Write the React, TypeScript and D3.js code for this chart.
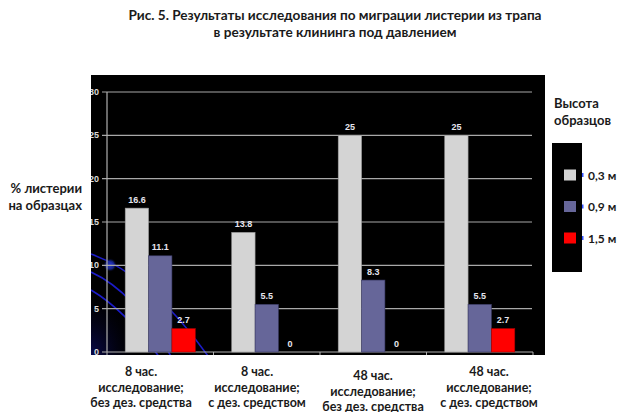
import React from "react";
import * as d3 from "d3";

const categories = ["g1", "g2", "g3", "g4"];
const categoryLines = [
  ["8 час.", "исследование;", "без дез. средства"],
  ["8 час.", "исследование;", "с дез. средством"],
  ["48 час.", "исследование;", "без дез. средства"],
  ["48 час.", "исследование;", "с дез. средством"],
];
const seriesNames = ["0,3 м", "0,9 м", "1,5 м"];
const values03 = [16.6, 13.8, 25, 25];
const values09 = [11.1, 5.5, 8.3, 5.5];
const values15 = [2.7, 0, 0, 2.7];
const yTicks = [0, 5, 10, 15, 20, 25, 30];
const titleLines = [
  "Рис. 5. Результаты исследования по миграции листерии из трапа",
  "в результате клининга под давлением",
];
const yTitleLines = ["% листерии", "на образцах"];
const legendTitleLines = ["Высота", "образцов"];

const colors = ["#d4d4d4", "#666699", "#ff0000"];
const strokes = ["#9a9a9a", "#3a3a66", "#aa0000"];

export default function App() {
  const seriesValues = [values03, values09, values15];
  const x0 = d3.scaleBand<string>().domain(categories).range([107, 533]).padding(0);
  const x1 = d3
    .scaleBand<string>()
    .domain(seriesNames)
    .range([0, x0.bandwidth()])
    .paddingInner(0)
    .paddingOuter(0.78);
  const y = d3.scaleLinear().domain([0, 30]).range([352, 92]);
  const xLabel = d3.scalePoint<string>().domain(categories).range([141, 489]);
  const labelDy = [0, 0, 4, 0];
  const legendY = d3.scalePoint<string>().domain(seriesNames).range([175, 238]);

  const fontCal = "Lato, 'Liberation Sans', sans-serif";
  const fontArial = "'Liberation Sans', Arial, sans-serif";

  return (
    <svg
      width={630}
      height={412}
      viewBox="0 0 630 412"
      style={{ position: "absolute", left: 0, top: 0, background: "#fff" }}
    >
      <defs>
        <clipPath id="panel">
          <rect x={91} y={75} width={454} height={280} />
        </clipPath>
        <radialGradient id="corner" cx="0" cy="1" r="1">
          <stop offset="0" stopColor="#0b0b55" stopOpacity={0.9} />
          <stop offset="1" stopColor="#000" stopOpacity={0} />
        </radialGradient>
        <radialGradient id="glow">
          <stop offset="0" stopColor="#2a3ad0" />
          <stop offset="0.6" stopColor="#1a2aa0" stopOpacity={0.8} />
          <stop offset="1" stopColor="#000" stopOpacity={0} />
        </radialGradient>
      </defs>

      {/* title */}
      <g fontFamily={fontCal} fontWeight="bold" fontSize={13.6} fill="#1a1a1a" textAnchor="middle">
        {titleLines.map((t, i) => (
          <text key={i} x={335} y={20 + i * 17}>
            {t}
          </text>
        ))}
      </g>

      {/* panel */}
      <rect x={91} y={75} width={454} height={280} fill="#000" />
      <g clipPath="url(#panel)">
        <rect x={91} y={285} width={50} height={70} fill="url(#corner)" />
        <g fill="none" stroke="#1c1cc8" strokeWidth={1.6}>
          <path d="M91,254 Q150,275 208,356" />
          <path d="M91,272 Q135,292 172,358" />
          <path d="M91,290 Q125,310 160,358" />
        </g>
        <circle cx={110} cy={265} r={7} fill="url(#glow)" />

        {/* y ticks and grid */}
        {yTicks.map((t) => (
          <g key={t}>
            {t > 0 && (
              <line x1={102} x2={532} y1={y(t)} y2={y(t)} stroke="#a8a8a8" strokeWidth={1.2} />
            )}
            <text
              x={99}
              y={y(t) + 3}
              textAnchor="end"
              fontFamily={fontArial}
              fontWeight="bold"
              fontSize={9}
              fill="#dcdcdc"
            >
              {t}
            </text>
          </g>
        ))}
        <line x1={107} x2={107} y1={y(30)} y2={y(0)} stroke="#b0b0b0" strokeWidth={1.2} />
        <line x1={102} x2={533} y1={y(0)} y2={y(0)} stroke="#b0b0b0" strokeWidth={1.2} />
        {[...categories.map((c) => x0(c) as number), 533].map((xv, i) => (
          <line key={i} x1={xv} x2={xv} y1={y(0)} y2={y(0) + 4} stroke="#b0b0b0" strokeWidth={1} />
        ))}

        {/* bars */}
        {categories.map((c, ci) => (
          <g key={c} transform={`translate(${x0(c)},0)`}>
            {seriesNames.map((s, si) => {
              const v = seriesValues[si][ci];
              const bx = x1(s) as number;
              const bw = x1.bandwidth();
              return (
                <g key={s}>
                  {v > 0 && (
                    <rect
                      x={bx}
                      y={y(v)}
                      width={bw}
                      height={y(0) - y(v)}
                      fill={colors[si]}
                      stroke={strokes[si]}
                      strokeWidth={0.6}
                    />
                  )}
                  <text
                    x={bx + bw / 2}
                    y={y(v) - 5.5}
                    textAnchor="middle"
                    fontFamily={fontArial}
                    fontWeight="bold"
                    fontSize={9}
                    fill="#e6e6ee"
                  >
                    {v}
                  </text>
                </g>
              );
            })}
          </g>
        ))}
      </g>

      {/* y title */}
      <g fontFamily={fontCal} fontWeight="bold" fontSize={13} fill="#1a1a1a" textAnchor="end">
        {yTitleLines.map((t, i) => (
          <text key={i} x={82} y={193 + i * 17}>
            {t}
          </text>
        ))}
      </g>

      {/* category labels */}
      <g fontFamily={fontCal} fontWeight="bold" fontSize={12.5} fill="#1a1a1a" textAnchor="middle">
        {categories.map((c, ci) =>
          categoryLines[ci].map((t, li) => (
            <text key={c + li} x={xLabel(c)} y={376 + labelDy[ci] + li * 15.5}>
              {t}
            </text>
          ))
        )}
      </g>

      {/* legend */}
      <g fontFamily={fontCal} fontWeight="bold" fontSize={13} fill="#1a1a1a">
        {legendTitleLines.map((t, i) => (
          <text key={i} x={554} y={108 + i * 17}>
            {t}
          </text>
        ))}
      </g>
      <rect x={552} y={143} width={30} height={129} fill="#000" />
      {seriesNames.map((s, si) => (
        <g key={s}>
          <rect x={564} y={(legendY(s) as number) - 5.5} width={12} height={11} fill={colors[si]} />
          <rect x={582} y={(legendY(s) as number) - 2} width={1.5} height={4} fill="#3050ff" />
          <text
            x={588}
            y={(legendY(s) as number) + 4.5}
            fontFamily={fontCal}
            fontWeight="bold"
            fontSize={12}
            fill="#1a1a1a"
          >
            {s}
          </text>
        </g>
      ))}
    </svg>
  );
}
